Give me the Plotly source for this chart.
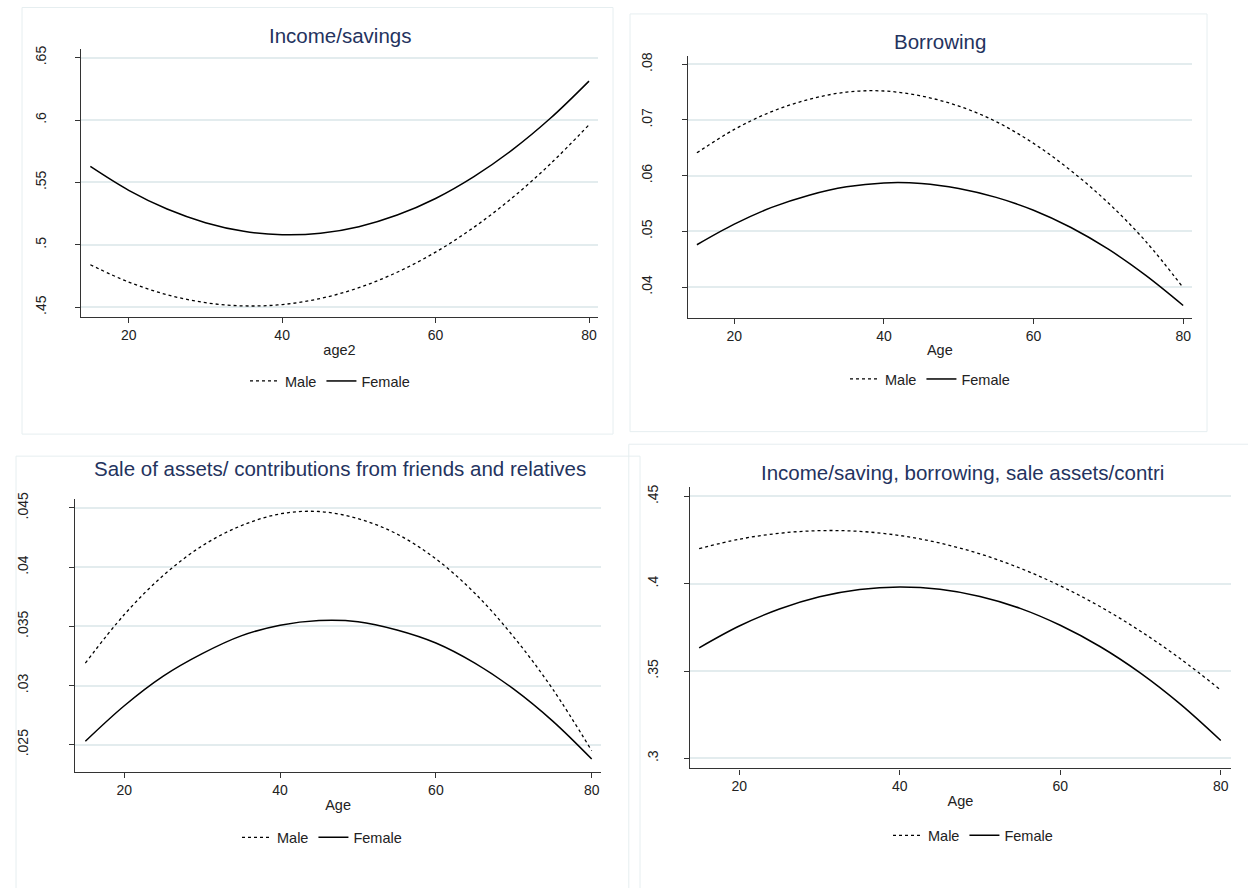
import plotly.graph_objects as go

# ---------------- data ----------------
ages = [15, 20, 25, 30, 35, 40, 45, 50, 55, 60, 65, 70, 75, 80]

inc_male = [0.4841, 0.4702, 0.4601, 0.4537, 0.4511, 0.4522, 0.4571, 0.4657, 0.4781, 0.4942, 0.5141, 0.5377, 0.5651, 0.5962]
inc_female = [0.5628, 0.5437, 0.5287, 0.5178, 0.5109, 0.5081, 0.5093, 0.5146, 0.5239, 0.5372, 0.5547, 0.5761, 0.6016, 0.6312]

bor_male = [0.0641, 0.0683, 0.0715, 0.0737, 0.0750, 0.0752, 0.0743, 0.0725, 0.0697, 0.0658, 0.0609, 0.0551, 0.0482, 0.0399]
bor_female = [0.0476, 0.0513, 0.0543, 0.0565, 0.0580, 0.0587, 0.0586, 0.0577, 0.0561, 0.0538, 0.0507, 0.0468, 0.0421, 0.0367]

sale_male = [0.0319, 0.0360, 0.0393, 0.0418, 0.0435, 0.0445, 0.0447, 0.0441, 0.0428, 0.0407, 0.0378, 0.0341, 0.0297, 0.0245]
sale_female = [0.0253, 0.0283, 0.0308, 0.0327, 0.0342, 0.0351, 0.0355, 0.0354, 0.0347, 0.0336, 0.0319, 0.0297, 0.0270, 0.0238]

all_male = [0.4201, 0.4255, 0.4289, 0.4304, 0.4300, 0.4276, 0.4233, 0.4171, 0.4089, 0.3988, 0.3868, 0.3728, 0.3569, 0.3391]
all_female = [0.3633, 0.3758, 0.3855, 0.3925, 0.3967, 0.3981, 0.3968, 0.3927, 0.3859, 0.3762, 0.3639, 0.3488, 0.3309, 0.3102]

titles = ["Income/savings", "Borrowing",
          "Sale of assets/ contributions from friends and relatives",
          "Income/saving, borrowing, sale assets/contri"]
x_titles = ["age2", "Age", "Age", "Age"]
x_ticks = [20, 40, 60, 80]

y_tickvals = [
    [0.45, 0.5, 0.55, 0.6, 0.65],
    [0.04, 0.05, 0.06, 0.07, 0.08],
    [0.025, 0.03, 0.035, 0.04, 0.045],
    [0.3, 0.35, 0.4, 0.45],
]
y_ticktext = [
    [".45", ".5", ".55", ".6", ".65"],
    [".04", ".05", ".06", ".07", ".08"],
    [".025", ".03", ".035", ".04", ".045"],
    [".3", ".35", ".4", ".45"],
]
series_names = ["Male", "Female"]
males = [inc_male, bor_male, sale_male, all_male]
females = [inc_female, bor_female, sale_female, all_female]

# ---------------- layout geometry (pixels) ----------------
W, H = 1248, 888
def px(x):
    return x / W
def py(y):
    return 1 - y / H

panels = [
    dict(x0=81.3, x1=597.6, yt=42.5, yb=312.5, xr=[13.82, 81.12], yr=[0.4422, 0.6568],
         title=(340, 29), legend=(330, 377), stand=24),
    dict(x0=687.7, x1=1192, yt=49.3, yb=313.3, xr=[13.77, 81.18], yr=[0.03448, 0.0815],
         title=(940, 35), legend=(930, 375), stand=24),
    dict(x0=75.3, x1=600.8, yt=496, yb=771, xr=[13.71, 81.17], yr=[0.02271, 0.04575],
         title=(340, 465), legend=(322, 837), stand=36),
    dict(x0=690, x1=1230.8, yt=484, yb=767.5, xr=[13.86, 81.25], yr=[0.2942, 0.4553],
         title=(962, 469), legend=(973, 835), stand=20),
]
boxes = [(22, 0.5, 613, 430.5), (630, 7, 1207, 428), (16, 452.7, 640, 900), (628.8, 440.7, 1260, 900)]

FONT = "Liberation Sans, Arial, sans-serif"
GRID = "#e3ecee"
AXC = "#333333"
TITLEC = "#24335e"

fig = go.Figure()
layout = dict(
    width=W, height=H, margin=dict(l=0, r=0, t=0, b=0),
    paper_bgcolor="white", plot_bgcolor="white",
    font=dict(family=FONT, color="#222222", size=14),
    showlegend=True, annotations=[], shapes=[],
)

for i, p in enumerate(panels):
    n = i + 1
    xa = "x" if n == 1 else f"x{n}"
    ya = "y" if n == 1 else f"y{n}"
    leg = "legend" if n == 1 else f"legend{n}"
    fig.add_trace(go.Scatter(x=ages, y=males[i], mode="lines", name=series_names[0],
                             line=dict(color="black", width=1.3, dash="3px,3px", shape="spline"),
                             xaxis=xa, yaxis=ya, legend=leg))
    fig.add_trace(go.Scatter(x=ages, y=females[i], mode="lines", name=series_names[1],
                             line=dict(color="black", width=1.5, shape="spline"),
                             xaxis=xa, yaxis=ya, legend=leg))
    xkey = "xaxis" if n == 1 else f"xaxis{n}"
    ykey = "yaxis" if n == 1 else f"yaxis{n}"
    layout[xkey] = dict(
        domain=[px(p["x0"]), px(p["x1"])], range=p["xr"], anchor=ya,
        tickvals=x_ticks, ticks="outside", ticklen=5, tickcolor=AXC, tickwidth=1.2,
        showline=True, linecolor=AXC, linewidth=1.4, showgrid=False, zeroline=False,
        tickfont=dict(size=14, color="#222222"),
        title=dict(text=x_titles[i], font=dict(size=14.5, color="#222222"), standoff=2),
    )
    layout[ykey] = dict(
        domain=[py(p["yb"]), py(p["yt"])], range=p["yr"], anchor=xa,
        tickvals=y_tickvals[i], ticktext=y_ticktext[i], tickangle=-90,
        ticks="outside", ticklen=5, tickcolor=AXC, tickwidth=1.2,
        ticklabelstandoff=p["stand"],
        showline=True, linecolor=AXC, linewidth=1.4,
        showgrid=True, gridcolor=GRID, gridwidth=1.6, zeroline=False,
        tickfont=dict(size=14, color="#222222"),
    )
    layout[leg] = dict(
        orientation="h", x=px(p["legend"][0]), y=py(p["legend"][1]),
        xanchor="center", yanchor="middle", bgcolor="rgba(0,0,0,0)",
        font=dict(size=14.5, color="#222222"), itemclick=False, itemdoubleclick=False,
        tracegroupgap=0, itemwidth=30,
    )
    layout["annotations"].append(dict(
        text=titles[i], x=px(p["title"][0]), y=py(p["title"][1]), xref="paper", yref="paper",
        xanchor="center", yanchor="middle", showarrow=False,
        font=dict(size=20.5, color=TITLEC, family=FONT),
    ))

for (bx0, by0, bx1, by1) in boxes:
    layout["shapes"].append(dict(
        type="rect", xref="paper", yref="paper", x0=px(bx0), x1=px(bx1), y0=py(by1), y1=py(by0),
        line=dict(color="#e6eef0", width=1), fillcolor="rgba(0,0,0,0)", layer="below",
    ))

fig.update_layout(**layout)
fig.write_html("out.html", config={"displayModeBar": False},
               post_script="document.body.style.margin='0';document.body.style.overflow='hidden';")
